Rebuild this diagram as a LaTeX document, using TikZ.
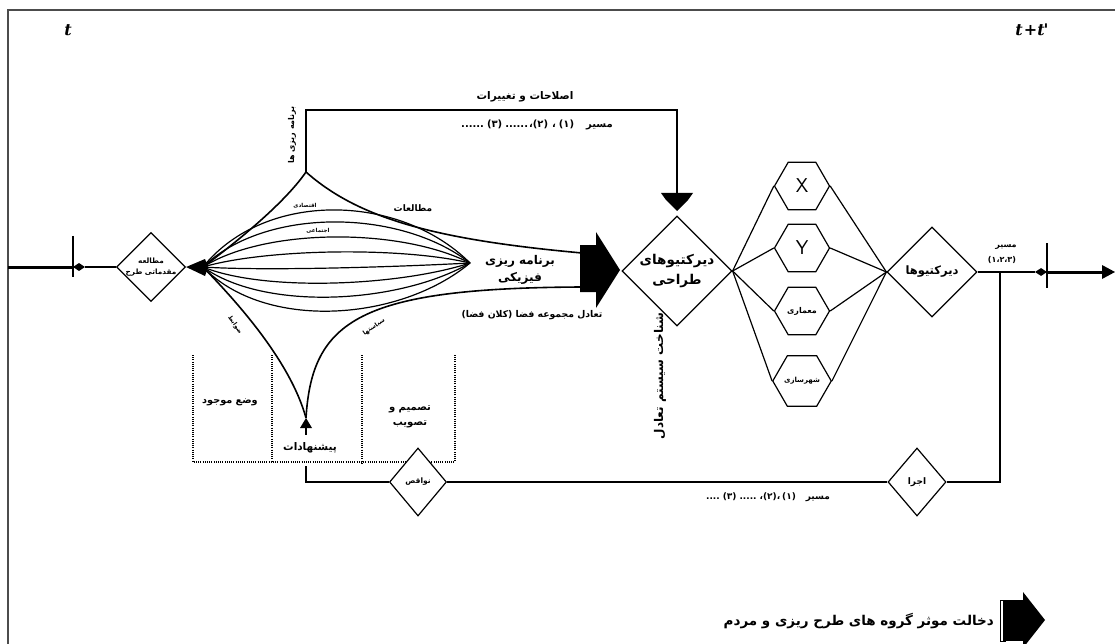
\documentclass[tikz,border=0pt]{standalone}
\usepackage{fontspec}
\usetikzlibrary{shapes.geometric}
\TeXXeTstate=1
\newfontfamily\fa[Script=Arabic]{DejaVu Sans}
\newfontfamily\tfont{DejaVu Serif}
\newcommand{\FA}[1]{\leavevmode{\fa\beginR #1\endR}}
\newcommand{\FB}[1]{\hbox{\fa #1}}
\newcommand{\fz}[2]{\fontsize{#1}{#2}\selectfont}
\tikzset{
  lbl/.style={inner sep=1pt, font=\bfseries\fz{9}{11}},
  dia/.style={draw, diamond, inner sep=0pt, line width=1.2pt, fill=white, align=center},
  hexa/.style={draw, regular polygon, regular polygon sides=6, minimum size=55pt, inner sep=0pt, line width=1.2pt, fill=white},
  ln/.style={line width=1.2pt},
  lnb/.style={line width=1.6pt},
  dotl/.style={line width=1.3pt, dash pattern=on 1pt off 1.2pt},
  tlbl/.style={font=\tfont\bfseries\itshape\fz{16}{16}},
}
\begin{document}
\begin{tikzpicture}[x=1pt,y=-1pt]
\useasboundingbox (0,0) rectangle (1115,644);
% frame
\draw[line width=1.6pt, black!70] (8,644) -- (8,10) -- (1115,10);

% time labels
\node[tlbl] (t0) at (68,30) {t};
\node[tlbl] (t1) at (1032,30) {t\kern1pt+t\kern-1pt\textquotesingle};

% first diamond
\node[dia, minimum width=68pt, minimum height=68pt, font=\bfseries\fz{7.3}{11}] (d1) at (151,267) {\FA{مطالعه}\\\FA{مقدماتی طرح}};

% left entry
\coordinate (Lin) at (8,267);
\coordinate (Lt) at (73,267);
\draw[line width=3pt] (Lin) -- (Lt);
\draw[line width=1.4pt] (73,236) -- (73,277);
\node[fill, diamond, minimum width=12pt, minimum height=8pt, inner sep=0pt] (Ld) at (79,267) {};
\draw[ln] (Ld) -- (d1);

% wedge and fan
\fill (d1.east) -- (205,259) -- (208,267) -- (205,276) -- cycle;
\coordinate (W) at (203,267);
\coordinate (C) at (470,263);
\coordinate (At) at (306,172);
\coordinate (Ab) at (306,418);
\coordinate (Eu) at (582,253);
\coordinate (Ed) at (582,287);
\draw[lnb] (W) .. controls (250,232) and (288,198) .. (At);
\draw[lnb] (At) .. controls (360,220) and (440,240) .. (Eu);
\draw[lnb] (W) .. controls (235,300) and (290,360) .. (Ab);
\draw[lnb] (Ab) .. controls (312,320) and (360,288) .. (Ed);
\foreach \d in {-55,-43,-28,-13,3,18,32,46}
  \draw[ln] (W) .. controls (265,{267+1.4*\d}) and (400,{263+1.27*\d}) .. (C);

% big arrow
\fill (580,245) -- (596,245) -- (596,232) -- (620,270) -- (596,308) -- (596,292) -- (580,292) -- cycle;

% design directives diamond
\node[dia, minimum width=110pt, minimum height=110pt, font=\bfseries\fz{13.5}{20}] (d2) at (677,271) {\FA{دیرکتیوهای}\\\FA{طراحی}};

% feedback top
\coordinate (Tk) at (306,110);
\coordinate (Tr) at (677,110);
\coordinate (Ta) at (677,194);
\draw[ln] (At) -- (Tk) -- (Tr) -- (Ta);
\fill (661,193) -- (693,193) -- (688,200) -- (677,211) -- (666,200) -- cycle;

\node[lbl, font=\bfseries\fz{10.5}{12}] (lt1) at (525,97) {\FA{اصلاحات و تغییرات}};
\node[lbl, font=\bfseries\fz{10}{12}] (lt2) at (537,125) {\leavevmode\beginL\FB{......}\kern3pt\FB{(۳)}\kern3pt\FB{......}\kern1pt\FB{،}\FB{(۲)}\kern4pt\FB{،}\kern3pt\FB{(۱)}\kern12pt\FB{مسیر}\endL};

% vertical labels
\node[lbl, rotate=90, font=\bfseries\fz{8}{9}] (lbr) at (292,135) {\FA{برنامه ریزی ها}};
\node[lbl, rotate=90, font=\bfseries\fz{12}{14}] (lsh) at (660,376) {\FA{شناخت سیستم تعادل}};

% fan labels
\node[lbl, font=\bfseries\fz{5.5}{6}] (leq) at (305,206) {\FA{اقتصادی}};
\node[lbl, font=\bfseries\fz{5.5}{6}] (lej) at (318,231) {\FA{اجتماعی}};
\node[lbl, font=\bfseries\fz{9}{10}] (lmt) at (413,208) {\FA{مطالعات}};
\node[lbl, font=\bfseries\fz{12}{17}, align=center] (lbf) at (520,270) {\FA{برنامه ریزی}\\\FA{فیزیکی}};
\node[lbl, font=\bfseries\fz{9.3}{11}] (lta) at (532,315) {\FA{تعادل مجموعه فضا (کلان فضا)}};
\node[lbl, rotate=35, font=\bfseries\fz{6}{7}] (lsy) at (374,327) {\FA{سیاستها}};
\node[lbl, rotate=-55, font=\bfseries\fz{6}{7}] (lzv) at (235,325) {\FA{ضوابط}};

% hexagons
\node[hexa, font=\sffamily\fz{20}{20}] (h1) at (802,186) {X};
\node[hexa, font=\sffamily\fz{20}{20}] (h2) at (802,248) {Y};
\node[hexa, font=\bfseries\fz{8}{9}] (h3) at (802,311) {\FA{معماری}};
\node[hexa, font=\bfseries\fz{7}{8}] (h4) at (802,381) {\FA{شهرسازی}};

% directives diamond
\node[dia, minimum width=90pt, minimum height=90pt, font=\bfseries\fz{11.5}{13}] (d3) at (932,272) {\FA{دیرکتیوها}};

\foreach \h in {h1,h2,h3,h4} {
  \draw[ln] (d2.east) -- (\h.west);
  \draw[ln] (\h.east) -- (d3.west);
}

% right exit
\coordinate (Rv) at (1000,272);
\node[fill, diamond, minimum width=12pt, minimum height=8pt, inner sep=0pt] (Rd) at (1041,272) {};
\coordinate (Re) at (1104,272);
\draw[ln] (d3.east) -- (Rd);
\draw[line width=3pt] (Rd) -- (Re);
\fill (1102,265) -- (1115,272) -- (1102,279) -- cycle;
\draw[line width=1.4pt] (1047,243) -- (1047,288);
\node[lbl, font=\bfseries\fz{8}{9}] (lm1) at (1006,247) {\FA{مسیر}};
\node[lbl, font=\bfseries\fz{8}{9}] (lm2) at (1002,260) {\FA{(۱،۲،۳)}};

% dotted boxes
\draw[dotl] (193,355) -- (193,462) -- (455,462) -- (455,355);
\draw[dotl] (272,355) -- (272,462);
\draw[dotl] (362,355) -- (362,465);
\node[lbl, font=\bfseries\fz{9.7}{11}] (lvm) at (230,402) {\FA{وضع موجود}};
\node[lbl, font=\bfseries\fz{10}{15}, align=center] (ltt) at (410,417) {\FA{تصمیم و}\\\FA{تصویب}};
\node[lbl, font=\bfseries\fz{10.5}{12}] (lps) at (310,448) {\FA{پیشنهادات}};

% upward small arrow at proposals
\fill (Ab) -- (300,428) -- (312,428) -- cycle;
\coordinate (Pb) at (306,435);
\draw[line width=1.4pt] (306,426) -- (Pb);

% bottom loop
\node[dia, minimum width=57pt, minimum height=68pt, font=\bfseries\fz{7.5}{9}] (d4) at (418,482) {\FA{نواقص}};
\node[dia, minimum width=58pt, minimum height=68pt, font=\bfseries\fz{9}{10}] (d5) at (917,482) {\FA{اجرا}};
\coordinate (Bc) at (1000,482);
\coordinate (Bl) at (306,482);
\coordinate (Bt) at (306,466);
\draw[ln] (Rv) -- (Bc) -- (d5.east);
\draw[ln] (d5.west) -- (d4.east);
\draw[ln] (d4.west) -- (Bl) -- (Bt);
\node[lbl, font=\bfseries\fz{9}{10}] (lb2) at (768,497) {\leavevmode\beginL\FB{....}\kern3pt\FB{(۳)}\kern3pt\FB{.....}\kern3pt\FB{،}\FB{(۲)}\FB{،}\kern2pt\FB{(۱)}\kern10pt\FB{مسیر}\endL};

% legend
\fill (1003,600) rectangle (1023,641);
\fill (1023,592) -- (1045,620) -- (1023,648) -- cycle;
\draw[line width=0.8pt] (1006,600) -- (1000,600) -- (1000,641) -- (1006,641);
\node[lbl, anchor=east, font=\bfseries\fz{13.5}{15}] (lg) at (995,621) {\FA{دخالت موثر گروه های طرح ریزی و مردم}};
\end{tikzpicture}
\end{document}
